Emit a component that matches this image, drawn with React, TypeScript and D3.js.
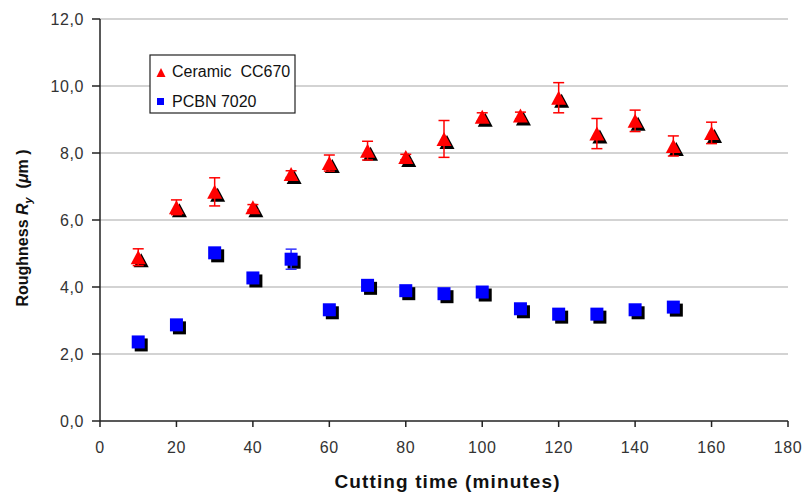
import React from "react";
import * as d3 from "d3";

const ceramicTimes = [10, 20, 30, 40, 50, 60, 70, 80, 90, 100, 110, 120, 130, 140, 150, 160];
const ceramicValues = [4.89, 6.38, 6.84, 6.38, 7.37, 7.7, 8.07, 7.88, 8.42, 9.08, 9.12, 9.65, 8.58, 8.96, 8.21, 8.6];
const ceramicErrors = [0.25, 0.22, 0.42, 0.08, 0.1, 0.24, 0.28, 0.08, 0.55, 0.12, 0.1, 0.45, 0.45, 0.32, 0.3, 0.32];

const pcbnTimes = [10, 20, 30, 40, 50, 60, 70, 80, 90, 100, 110, 120, 130, 140, 150];
const pcbnValues = [2.36, 2.87, 5.02, 4.27, 4.83, 3.32, 4.05, 3.89, 3.8, 3.85, 3.35, 3.19, 3.19, 3.32, 3.4];
const pcbnErrors = [0.05, 0.08, 0.08, 0.05, 0.3, 0.05, 0.08, 0.08, 0.1, 0.08, 0.05, 0.05, 0.05, 0.05, 0.05];

const xTicks = [0, 20, 40, 60, 80, 100, 120, 140, 160, 180];
const yTicks = [0, 2, 4, 6, 8, 10, 12];

const seriesNames = ["Ceramic  CC670", "PCBN 7020"];

const FONT = "Arial, 'Liberation Sans', sans-serif";

export default function App() {
  const x = d3.scaleLinear().domain([0, 180]).range([100, 788]);
  const y = d3.scaleLinear().domain([0, 12]).range([421, 19]);
  const fmt = (v: number) => d3.format(".1f")(v).replace(".", ",");

  const tri = (cx: number, cy: number, w: number, h: number) =>
    `M${cx},${cy - h / 2}L${cx + w / 2},${cy + h / 2}L${cx - w / 2},${cy + h / 2}Z`;

  const ceramic = ceramicTimes.map((t, i) => ({ t, v: ceramicValues[i], e: ceramicErrors[i] }));
  const pcbn = pcbnTimes.map((t, i) => ({ t, v: pcbnValues[i], e: pcbnErrors[i] }));

  const errBar = (d: { t: number; v: number; e: number }, color: string) => {
    const cx = x(d.t);
    const y1 = y(d.v + d.e);
    const y2 = y(d.v - d.e);
    return (
      <g stroke={color} strokeWidth={1.5}>
        <line x1={cx} x2={cx} y1={y1} y2={y2} />
        <line x1={cx - 5.5} x2={cx + 5.5} y1={y1} y2={y1} />
        <line x1={cx - 5.5} x2={cx + 5.5} y1={y2} y2={y2} />
      </g>
    );
  };

  return (
    <svg width={806} height={497} style={{ position: "absolute", left: 0, top: 0, background: "#fff" }}>
      <rect x={0} y={0} width={806} height={497} fill="#fff" />
      {yTicks.filter((t) => t > 0).map((t) => (
        <line key={"g" + t} x1={x(0)} x2={x(180)} y1={y(t)} y2={y(t)} stroke="#c4c4c4" strokeWidth={1.5} />
      ))}
      <line x1={x(0)} x2={x(0)} y1={y(12)} y2={y(0)} stroke="#222" strokeWidth={1.5} />
      <line x1={x(0)} x2={x(180)} y1={y(0)} y2={y(0)} stroke="#222" strokeWidth={1.5} />
      {yTicks.map((t) => (
        <g key={"yt" + t}>
          <line x1={x(0) - 8} x2={x(0)} y1={y(t)} y2={y(t)} stroke="#222" strokeWidth={1.5} />
          <text x={84} y={y(t) + 5.8} textAnchor="end" fontFamily={FONT} fontSize={16} fill="#333" letterSpacing={0.6}>
            {fmt(t)}
          </text>
        </g>
      ))}
      {xTicks.map((t) => (
        <g key={"xt" + t}>
          <line x1={x(t)} x2={x(t)} y1={y(0)} y2={y(0) + 6} stroke="#222" strokeWidth={1.5} />
          <text x={x(t)} y={453} textAnchor="middle" fontFamily={FONT} fontSize={16} fill="#333" letterSpacing={0.6}>
            {t}
          </text>
        </g>
      ))}
      <text x={447} y={488} textAnchor="middle" fontFamily={FONT} fontSize={19} fontWeight="bold" fill="#111" textLength={225} lengthAdjust="spacing">
        Cutting time (minutes)
      </text>
      <text
        transform="translate(28,228) rotate(-90)"
        textAnchor="middle"
        fontFamily={FONT}
        fontSize={16}
        fontWeight="bold"
        fill="#111"
        style={{ whiteSpace: "pre" }}
      >
        <tspan>Roughness </tspan>
        <tspan fontStyle="italic">R</tspan>
        <tspan fontStyle="italic" fontSize={11} dy={4}>y</tspan>
        <tspan dy={-4}>  (</tspan>
        <tspan fontStyle="italic">μ</tspan>
        <tspan>m )</tspan>
      </text>

      {pcbn.map((d, i) => (
        <g key={"p" + i}>
          <rect x={x(d.t) - 6.5 + 3} y={y(d.v) - 6.5 + 3} width={13} height={13} fill="#000" />
          {errBar(d, "#3333ff")}
          <rect x={x(d.t) - 6.5} y={y(d.v) - 6.5} width={13} height={13} fill="#0000ff" />
        </g>
      ))}

      {ceramic.map((d, i) => (
        <g key={"c" + i}>
          <path d={tri(x(d.t) + 3, y(d.v) + 3, 15, 14)} fill="#000" />
          {errBar(d, "#ff0000")}
          <path d={tri(x(d.t), y(d.v), 15, 14)} fill="#ff0000" />
        </g>
      ))}

      <rect x={150} y={55} width={145} height={58} fill="#fff" stroke="#222" strokeWidth={1.2} />
      <path d={tri(161, 72.5, 9, 9)} fill="#ff0000" />
      <text x={172} y={76.5} fontFamily={FONT} fontSize={16} fill="#111" style={{ whiteSpace: "pre" }}>
        {seriesNames[0]}
      </text>
      <rect x={157} y={98} width={7} height={7} fill="#0000ff" />
      <text x={172} y={106.5} fontFamily={FONT} fontSize={16} fill="#111">
        {seriesNames[1]}
      </text>
    </svg>
  );
}
